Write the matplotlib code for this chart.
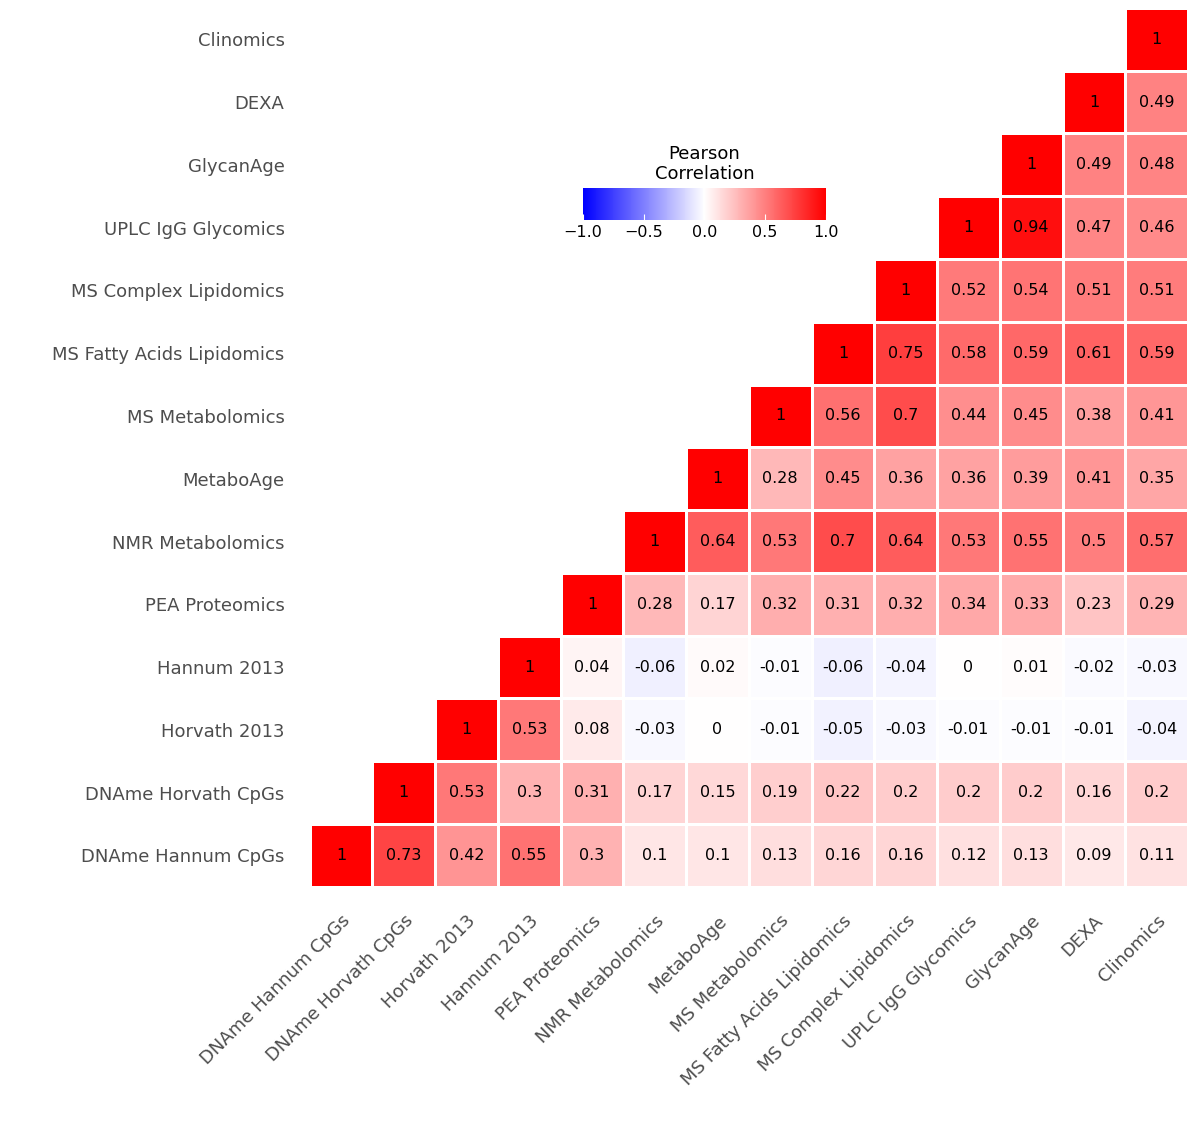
import matplotlib.pyplot as plt
import numpy as np
from matplotlib.colors import LinearSegmentedColormap

labels = ['DNAme Hannum CpGs', 'DNAme Horvath CpGs', 'Horvath 2013', 'Hannum 2013',
          'PEA Proteomics', 'NMR Metabolomics', 'MetaboAge', 'MS Metabolomics',
          'MS Fatty Acids Lipidomics', 'MS Complex Lipidomics', 'UPLC IgG Glycomics',
          'GlycanAge', 'DEXA', 'Clinomics']

# row i holds correlations with columns i..13
rows = [
    [1, 0.73, 0.42, 0.55, 0.3, 0.1, 0.1, 0.13, 0.16, 0.16, 0.12, 0.13, 0.09, 0.11],
    [1, 0.53, 0.3, 0.31, 0.17, 0.15, 0.19, 0.22, 0.2, 0.2, 0.2, 0.16, 0.2],
    [1, 0.53, 0.08, -0.03, 0, -0.01, -0.05, -0.03, -0.01, -0.01, -0.01, -0.04],
    [1, 0.04, -0.06, 0.02, -0.01, -0.06, -0.04, 0, 0.01, -0.02, -0.03],
    [1, 0.28, 0.17, 0.32, 0.31, 0.32, 0.34, 0.33, 0.23, 0.29],
    [1, 0.64, 0.53, 0.7, 0.64, 0.53, 0.55, 0.5, 0.57],
    [1, 0.28, 0.45, 0.36, 0.36, 0.39, 0.41, 0.35],
    [1, 0.56, 0.7, 0.44, 0.45, 0.38, 0.41],
    [1, 0.75, 0.58, 0.59, 0.61, 0.59],
    [1, 0.52, 0.54, 0.51, 0.51],
    [1, 0.94, 0.47, 0.46],
    [1, 0.49, 0.48],
    [1, 0.49],
    [1],
]

n = len(labels)
mat = np.full((n, n), np.nan)
for i, r in enumerate(rows):
    mat[i, i:] = r
data = np.ma.masked_invalid(mat)

cmap = LinearSegmentedColormap.from_list('bwr2', ['#0000ff', '#ffffff', '#ff0000'])

fig = plt.figure(figsize=(12, 11.24), dpi=100)
ax = fig.add_axes([0.258, 0.211, 0.732, 0.782])
mesh = ax.pcolormesh(np.arange(n + 1), np.arange(n + 1), data, cmap=cmap, vmin=-1, vmax=1,
                     edgecolors='white', linewidth=1)
for i in range(n):
    for j in range(i, n):
        v = mat[i, j]
        ax.text(j + 0.5, i + 0.5, f'{v:g}', ha='center', va='center', fontsize=11.5, color='black')

ax.set_xlim(0, n)
ax.set_ylim(0, n)
ax.set_xticks(np.arange(n) + 0.5)
ax.set_yticks(np.arange(n) + 0.5)
ax.set_xticklabels(labels, rotation=45, ha='right', rotation_mode='anchor', fontsize=13, color='#4d4d4d')
ax.set_yticklabels(labels, fontsize=13, color='#4d4d4d')
ax.tick_params(length=0, pad=18)
for s in ax.spines.values():
    s.set_visible(False)

cax = fig.add_axes([0.486, 0.804, 0.202, 0.029])
cb = fig.colorbar(mesh, cax=cax, orientation='horizontal', ticks=[-1, -0.5, 0, 0.5, 1])
cb.ax.set_xticklabels(['\u22121.0', '\u22120.5', '0.0', '0.5', '1.0'], fontsize=11.5)
cb.outline.set_visible(False)
cb.ax.tick_params(length=4, color='white', direction='in')
cax.set_title('Pearson\nCorrelation', fontsize=13, pad=6)

plt.savefig('out.png')
